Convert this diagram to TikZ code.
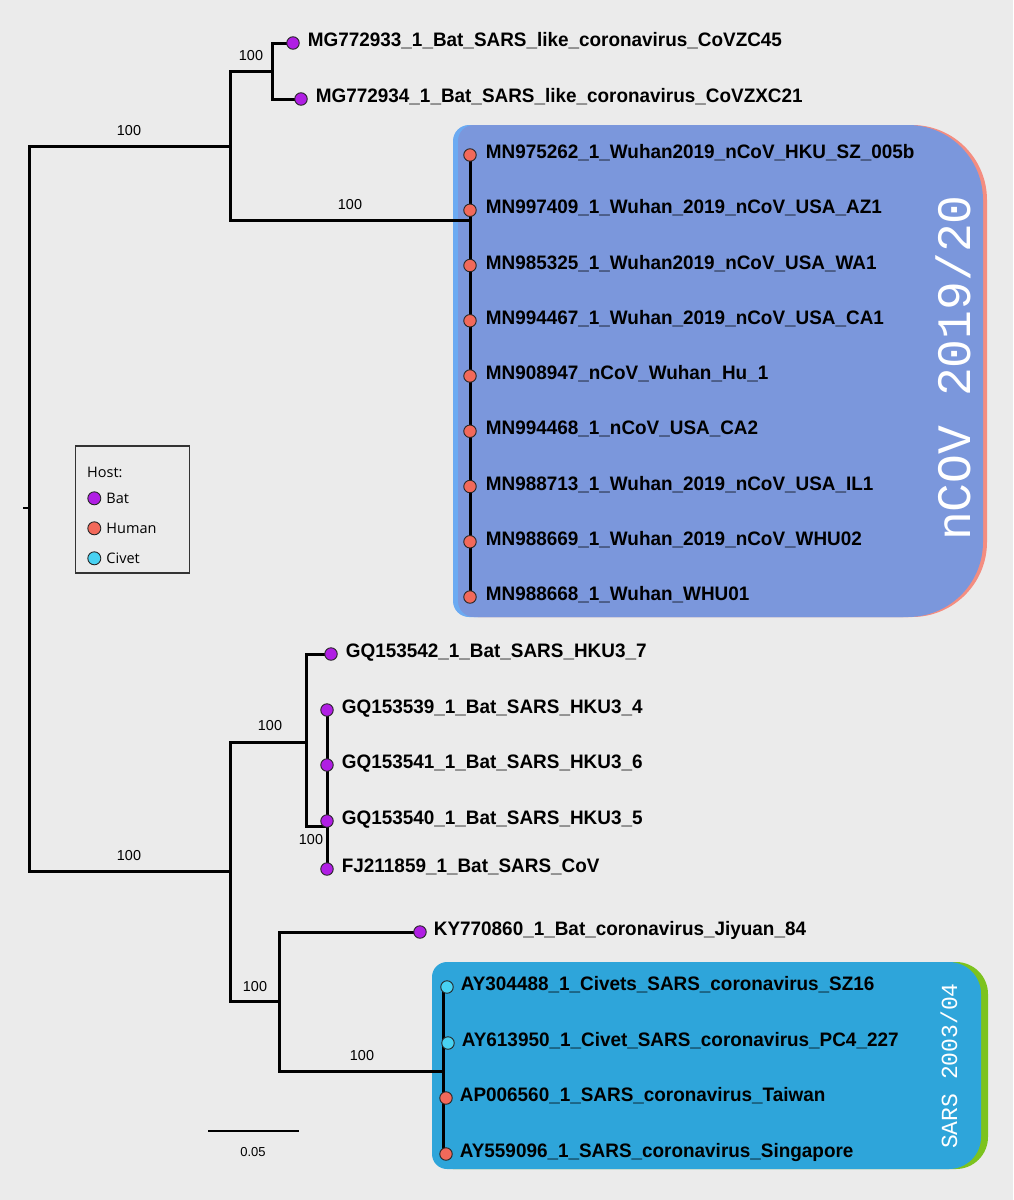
\documentclass[tikz,border=0pt]{standalone}
\usepackage{fontspec}
\setmainfont{Liberation Sans}
\newfontfamily\leaffont[FakeStretch=0.97]{Liberation Sans}
\newfontfamily\legendfont{Open Sans}
\newfontfamily\tagfont{Liberation Mono}
\usepackage{tikz}
\usetikzlibrary{
  calc,
  positioning
}

\definecolor{batpurple}{HTML}{B01EE4}
\definecolor{humanred}{HTML}{F2695A}
\definecolor{civetcyan}{HTML}{48D2F2}
\definecolor{ncovfill}{HTML}{7B97DC}
\definecolor{ncovleft}{HTML}{6BAAF2}
\definecolor{ncovright}{HTML}{F48D80}
\definecolor{sarsfill}{HTML}{2EA5DA}
\definecolor{sarsright}{HTML}{7CC31E}
\definecolor{paper}{HTML}{EBEBEB}

% x1 y1 x2 y2 left-radius right-radius colour
\newcommand{\cladebox}[7]{%
  \fill[#7] (#1+#5,#2) -- (#3-#6,#2)
    arc[start angle=90,end angle=0,radius=#6pt] -- (#3,#4-#6)
    arc[start angle=0,end angle=-90,radius=#6pt] -- (#1+#5,#4)
    arc[start angle=270,end angle=180,radius=#5pt] -- (#1,#2+#5)
    arc[start angle=180,end angle=90,radius=#5pt] -- cycle;}

\begin{document}
\begin{tikzpicture}[x=1pt,y=-1pt]
  \tikzset{
    branch/.style={line width=3pt,line join=miter},
    hostdot/.style={circle,draw=black!85,line width=0.9pt,inner sep=0pt,minimum size=12.5pt},
    batdot/.style={hostdot,fill=batpurple},
    humandot/.style={hostdot,fill=humanred},
    civetdot/.style={hostdot,fill=civetcyan},
    leaflab/.style={font=\leaffont\bfseries\fontsize{19.5}{20}\selectfont,
      inner sep=0pt,anchor=base west,yshift=-3.5pt},
    boot/.style={font=\fontsize{14.4}{15}\selectfont,inner sep=0pt},
    legendlab/.style={font=\legendfont\fontsize{14.5}{15}\selectfont,inner sep=0pt,anchor=west},
    tag/.style={rotate=90,text=white,inner sep=0pt}
  }
\useasboundingbox (0,0) rectangle (1013,1200);

% paper
\fill[paper] (0,0) rectangle (1013,1200);

% clade boxes
\cladebox{453}{125}{978}{617}{16}{75}{ncovleft}
\cladebox{462}{125}{987}{617}{16}{75}{ncovright}
\cladebox{458}{125}{983}{617}{16}{75}{ncovfill}

\cladebox{438}{962}{988}{1169}{15}{32}{sarsright}
\cladebox{432}{962}{981}{1169}{15}{32}{sarsfill}

% internal nodes
\coordinate (root) at (29,508);
\coordinate (nA) at (230,146);
\coordinate (nA1) at (272,71);
\coordinate (nCoV) at (470,220);
\coordinate (nB) at (230,871);
\coordinate (nB1) at (306,742);
\coordinate (nB11) at (327,826);
\coordinate (nB2) at (279,1001);
\coordinate (nSARS) at (443,1071);

% tips
\coordinate (mg1) at (293,43);
\coordinate (mg2) at (301,99);
\foreach \i in {1,...,9}
  \coordinate (cv\i) at (470,{155+55.25*(\i-1)});
\coordinate (hk1) at (331,654);
\coordinate (hk2) at (327,710);
\coordinate (hk3) at (327,765);
\coordinate (hk4) at (327,821);
\coordinate (fj) at (327,869);
\coordinate (ky) at (420,932);
\coordinate (sz) at (447,987);
\coordinate (pc) at (448,1043);
\coordinate (tw) at (446,1098);
\coordinate (sg) at (446,1154);

% branches
\draw[line width=2pt] (root) -- ++(-6,0);
\draw[branch] (root) |- (nA);
\draw[branch] (root) |- (nB);
\draw[branch] (nA) |- (nA1);
\draw[branch] (nA) |- (nCoV);
\draw[branch] (nA1) |- (mg1);
\draw[branch] (nA1) |- (mg2);
\draw[branch] (cv1) -- (cv9);
\draw[branch] (nB) |- (nB1);
\draw[branch] (nB) |- (nB2);
\draw[branch] (nB1) |- (hk1);
\draw[branch] (nB1) |- (nB11);
\draw[branch] (hk2) -- (fj);
\draw[branch] (nB2) |- (ky);
\draw[branch] (nB2) |- (nSARS);
\draw[branch] (sz -| nSARS) -- (sg -| nSARS);
\draw[branch] (nSARS |- sz) -- (sz);
\draw[branch] (nSARS |- pc) -- (pc);
\draw[branch] (nSARS |- tw) -- (tw);
\draw[branch] (nSARS |- sg) -- (sg);

% bootstrap values
\node[boot] (bt1) at (129,131) {100};
\node[boot] (bt2) at (251,56) {100};
\node[boot] (bt3) at (350,205) {100};
\node[boot] (bt4) at (129,856) {100};
\node[boot] (bt5) at (270,726) {100};
\node[boot] (bt6) at (311,840) {100};
\node[boot] (bt7) at (255,987) {100};
\node[boot] (bt8) at (362,1056) {100};

% tips and names
\node[batdot] (d-mg1) at (mg1) {};
\node[leaflab] at ([xshift=8pt]d-mg1.east) {MG772933\_1\_Bat\_SARS\_like\_coronavirus\_CoVZC45};
\node[batdot] (d-mg2) at (mg2) {};
\node[leaflab] at ([xshift=8pt]d-mg2.east) {MG772934\_1\_Bat\_SARS\_like\_coronavirus\_CoVZXC21};

\foreach \lab [count=\i] in {
    MN975262\_1\_Wuhan2019\_nCoV\_HKU\_SZ\_005b,
    MN997409\_1\_Wuhan\_2019\_nCoV\_USA\_AZ1,
    MN985325\_1\_Wuhan2019\_nCoV\_USA\_WA1,
    MN994467\_1\_Wuhan\_2019\_nCoV\_USA\_CA1,
    MN908947\_nCoV\_Wuhan\_Hu\_1,
    MN994468\_1\_nCoV\_USA\_CA2,
    MN988713\_1\_Wuhan\_2019\_nCoV\_USA\_IL1,
    MN988669\_1\_Wuhan\_2019\_nCoV\_WHU02,
    MN988668\_1\_Wuhan\_WHU01}{
  \node[humandot] (d-cv\i) at (cv\i) {};
  \node[leaflab] at ([xshift=9pt]d-cv\i.east) {\lab};
}

\node[batdot] (d-hk1) at (hk1) {};
\node[leaflab] at ([xshift=8pt]d-hk1.east) {GQ153542\_1\_Bat\_SARS\_HKU3\_7};
\node[batdot] (d-hk2) at (hk2) {};
\node[leaflab] at ([xshift=8pt]d-hk2.east) {GQ153539\_1\_Bat\_SARS\_HKU3\_4};
\node[batdot] (d-hk3) at (hk3) {};
\node[leaflab] at ([xshift=8pt]d-hk3.east) {GQ153541\_1\_Bat\_SARS\_HKU3\_6};
\node[batdot] (d-hk4) at (hk4) {};
\node[leaflab] at ([xshift=8pt]d-hk4.east) {GQ153540\_1\_Bat\_SARS\_HKU3\_5};
\node[batdot] (d-fj) at (fj) {};
\node[leaflab] at ([xshift=8pt]d-fj.east) {FJ211859\_1\_Bat\_SARS\_CoV};

\node[batdot] (d-ky) at (ky) {};
\node[leaflab] at ([xshift=7pt]d-ky.east) {KY770860\_1\_Bat\_coronavirus\_Jiyuan\_84};

\node[civetdot] (d-sz) at (sz) {};
\node[leaflab] at ([xshift=7pt]d-sz.east) {AY304488\_1\_Civets\_SARS\_coronavirus\_SZ16};
\node[civetdot] (d-pc) at (pc) {};
\node[leaflab] at ([xshift=7pt]d-pc.east) {AY613950\_1\_Civet\_SARS\_coronavirus\_PC4\_227};
\node[humandot] (d-tw) at (tw) {};
\node[leaflab] at ([xshift=7pt]d-tw.east) {AP006560\_1\_SARS\_coronavirus\_Taiwan};
\node[humandot] (d-sg) at (sg) {};
\node[leaflab] at ([xshift=7pt]d-sg.east) {AY559096\_1\_SARS\_coronavirus\_Singapore};

% clade tags
\node[tag,font=\tagfont\fontsize{48}{48}\selectfont] (ncovtag) at (953,368) {nCOV 2019/20};
\node[tag,font=\tagfont\fontsize{23}{23}\selectfont] (sarstag) at (949,1066) {SARS 2003/04};

% scale bar
\coordinate (sb1) at (208,1131);
\coordinate (sb2) at (299,1131);
\draw[line width=1.3pt] (sb1) -- (sb2);
\node[font=\fontsize{13}{14}\selectfont,inner sep=0pt] (sblab) at (253,1152) {0.05};

% legend
\node[draw=black!80,line width=1.1pt,minimum width=114pt,minimum height=127pt,inner sep=0pt] (legend) at (132.5,509.5) {};
\node[legendlab] (hostlab) at (87,472) {Host:};
\node[hostdot,fill=batpurple,minimum size=13pt] (lg-bat) at (94.3,498.3) {};
\node[legendlab,right=5pt of lg-bat] {Bat};
\node[hostdot,fill=humanred,minimum size=13pt] (lg-hum) at (94.3,528.3) {};
\node[legendlab,right=5pt of lg-hum] {Human};
\node[hostdot,fill=civetcyan,minimum size=13pt] (lg-civ) at (94.3,558.3) {};
\node[legendlab,right=5pt of lg-civ] {Civet};

\end{tikzpicture}
\end{document}
